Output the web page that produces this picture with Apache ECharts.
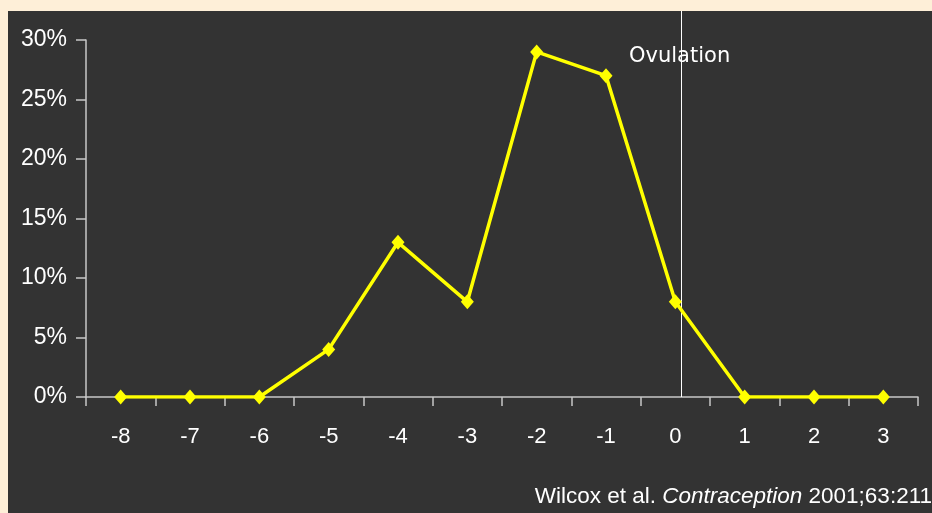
<!DOCTYPE html>
<html>
<head>
<meta charset="utf-8">
<script src="https://cdn.jsdelivr.net/npm/echarts@6/dist/echarts.min.js"></script>
<style>
  html, body { margin: 0; padding: 0; background: #FEEFD8; width: 932px; height: 513px; overflow: hidden; }
  #chart { position: absolute; left: 8px; top: 11px; width: 924px; height: 502px; }
</style>
</head>
<body>
<div id="chart"></div>
<script>
const days = ['-8', '-7', '-6', '-5', '-4', '-3', '-2', '-1', '0', '1', '2', '3'];
const probability = [0, 0, 0, 4, 13, 8, 29, 27, 8, 0, 0, 0];
const yTicks = { min: 0, max: 30, interval: 5 };
const ovulationDay = '0';

const chart = echarts.init(document.getElementById('chart'));
const axisColor = '#C8C8C8';
const font = 'Liberation Sans, Arial, sans-serif';
chart.setOption({
  backgroundColor: '#333333',
  animation: false,
  title: [
    {
      text: '{a|Wilcox et al. }{b|Contraception}{a| 2001;63:211}',
      right: 0, top: 474, padding: 0,
      textStyle: {
        rich: {
          a: { color: '#FFFFFF', fontSize: 22.5, fontWeight: 'normal', fontFamily: font },
          b: { color: '#FFFFFF', fontSize: 22.5, fontWeight: 'normal', fontStyle: 'italic', fontFamily: font }
        }
      }
    },
    {
      text: 'Ovulation',
      left: 621, top: 35, padding: 0,
      textStyle: { color: '#FFFFFF', fontSize: 21, fontWeight: 'normal', fontFamily: 'Comic Sans MS, DejaVu Sans, sans-serif' }
    }
  ],
  grid: [
    { left: 78, right: 14, top: 29, bottom: 116 },
    { left: 84, right: 8, top: 0, bottom: 116 }
  ],
  xAxis: [
    {
      type: 'category', data: days, gridIndex: 0, boundaryGap: true,
      axisLine: { lineStyle: { color: axisColor, width: 1.5 } },
      axisTick: { show: true, length: 9, lineStyle: { color: axisColor, width: 1.5 } },
      axisLabel: { color: '#FFFFFF', fontSize: 22, margin: 29, fontFamily: font },
      splitLine: { show: false }
    },
    {
      type: 'category', data: days, gridIndex: 1, boundaryGap: true, show: false
    }
  ],
  yAxis: [
    {
      type: 'value', gridIndex: 0, min: yTicks.min, max: yTicks.max, interval: yTicks.interval,
      axisLine: { show: true, lineStyle: { color: axisColor, width: 1.5 } },
      axisTick: { show: true, length: 10, lineStyle: { color: axisColor, width: 1.5 } },
      axisLabel: { color: '#FFFFFF', fontSize: 23, margin: 19, formatter: '{value}%', fontFamily: font },
      splitLine: { show: false }
    },
    {
      type: 'value', gridIndex: 1, min: 0, max: 1, show: false
    }
  ],
  series: [
    {
      type: 'line', xAxisIndex: 0, yAxisIndex: 0,
      data: probability,
      symbol: 'diamond', symbolSize: [13, 15],
      lineStyle: { color: '#FFFF00', width: 3.5 },
      itemStyle: { color: '#FFFF00' },
      z: 5
    },
    {
      type: 'line', xAxisIndex: 1, yAxisIndex: 1, data: [],
      markLine: {
        silent: true, symbol: 'none',
        label: { show: false },
        lineStyle: { color: '#FFFFFF', width: 1, type: 'solid' },
        data: [{ xAxis: ovulationDay }]
      },
      z: 1
    }
  ]
});
</script>
</body>
</html>
